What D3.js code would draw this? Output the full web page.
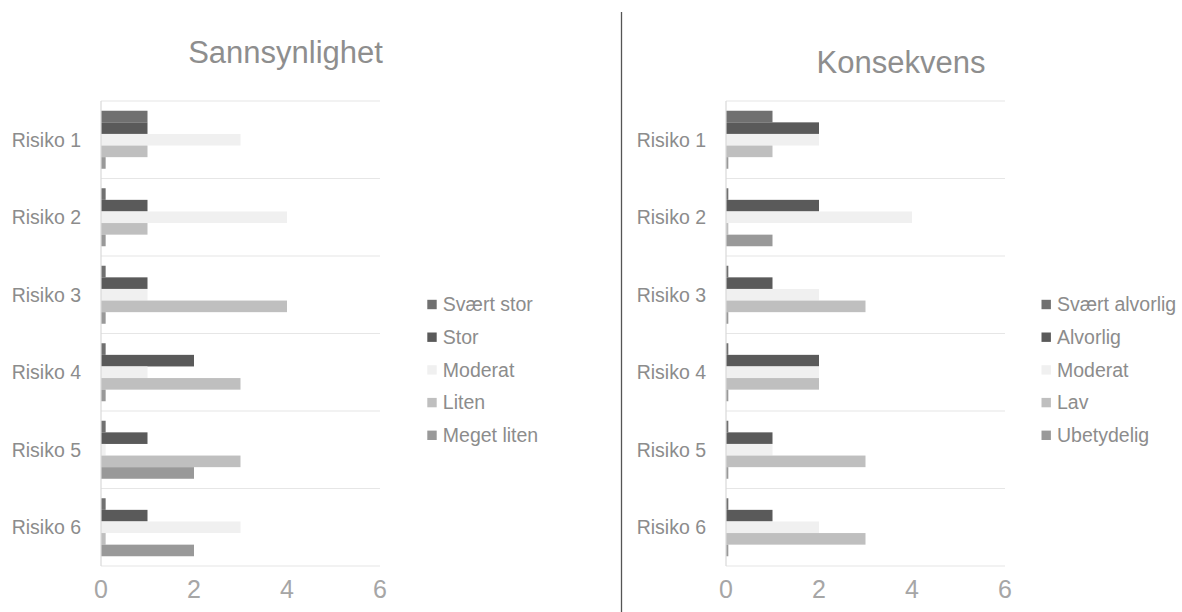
<!DOCTYPE html>
<html>
<head>
<meta charset="utf-8">
<script src="https://cdn.jsdelivr.net/npm/d3@7"></script>
<style>
  html, body { margin: 0; padding: 0; background: #fff; }
  svg { display: block; font-family: "Liberation Sans", Arial, sans-serif; }
</style>
</head>
<body>
<svg id="chart" width="1182" height="612"></svg>
<script>
// ---- Data ----
const categories = ["Risiko 1", "Risiko 2", "Risiko 3", "Risiko 4", "Risiko 5", "Risiko 6"];
const xTicks = [0, 2, 4, 6];

const leftTitle = "Sannsynlighet";
const leftSeries = ["Svært stor", "Stor", "Moderat", "Liten", "Meget liten"];
const leftSvaertStor = [1, 0.1, 0.1, 0.1, 0.1, 0.1];
const leftStor       = [1, 1, 1, 2, 1, 1];
const leftModerat    = [3, 4, 1, 1, 0.1, 3];
const leftLiten      = [1, 1, 4, 3, 3, 0.1];
const leftMegetLiten = [0.1, 0.1, 0.1, 0.1, 2, 2];

const rightTitle = "Konsekvens";
const rightSeries = ["Svært alvorlig", "Alvorlig", "Moderat", "Lav", "Ubetydelig"];
const rightSvaertAlvorlig = [1, 0.05, 0.05, 0.05, 0.05, 0.05];
const rightAlvorlig       = [2, 2, 1, 2, 1, 1];
const rightModerat        = [2, 4, 2, 2, 1, 2];
const rightLav            = [1, 0.05, 3, 2, 3, 3];
const rightUbetydelig     = [0.05, 1, 0.05, 0.05, 0.05, 0.05];

const seriesColors = ["#707070", "#5a5a5a", "#f0f0f0", "#bfbfbf", "#999999"];

const svg = d3.select("#chart");

function drawPanel(cfg) {
  const g = svg.append("g");
  const x = d3.scaleLinear().domain([0, 6]).range([cfg.x0, cfg.x0 + 279]);
  const y = d3.scaleBand().domain(categories).range([101, 566]).padding(0);
  const ys = d3.scaleBand().domain(cfg.series).range([0, y.bandwidth()]).paddingInner(0).paddingOuter(0.84);
  const color = d3.scaleOrdinal().domain(cfg.series).range(seriesColors);

  // title
  g.append("text")
    .attr("x", cfg.titleX).attr("y", cfg.titleY)
    .attr("text-anchor", "middle")
    .attr("font-size", 31)
    .attr("fill", "#8e8e8e")
    .text(cfg.title);

  // horizontal gridlines at band boundaries
  const bounds = categories.map(c => y(c)).concat([y.range()[1]]);
  g.selectAll("line.grid").data(bounds).enter().append("line")
    .attr("x1", x(0)).attr("x2", x(6))
    .attr("y1", d => d).attr("y2", d => d)
    .attr("stroke", "#e6e6e6").attr("stroke-width", 1.2);

  // bars
  const rows = [];
  cfg.series.forEach((s, si) => {
    cfg.values[si].forEach((v, ci) => rows.push({ s, c: categories[ci], v }));
  });
  g.selectAll("rect.bar").data(rows).enter().append("rect")
    .attr("x", x(0))
    .attr("y", d => y(d.c) + ys(d.s))
    .attr("width", d => x(d.v) - x(0))
    .attr("height", ys.bandwidth())
    .attr("fill", d => color(d.s));

  // vertical axis line
  g.append("line")
    .attr("x1", x(0)).attr("x2", x(0))
    .attr("y1", 101).attr("y2", 566)
    .attr("stroke", "#d9d9d9").attr("stroke-width", 1.2);

  // category labels
  g.selectAll("text.cat").data(categories).enter().append("text")
    .attr("x", x(0) - 20)
    .attr("y", d => y(d) + y.bandwidth() / 2)
    .attr("dy", "0.35em")
    .attr("text-anchor", "end")
    .attr("font-size", 19.5)
    .attr("fill", "#8c8c8c")
    .text(d => d);

  // x tick labels
  g.selectAll("text.tick").data(xTicks).enter().append("text")
    .attr("x", d => x(d))
    .attr("y", 598)
    .attr("text-anchor", "middle")
    .attr("font-size", 25)
    .attr("fill", "#a6a6a6")
    .text(d => d);

  // legend
  const leg = g.selectAll("g.leg").data(cfg.series).enter().append("g")
    .attr("transform", (d, i) => `translate(${cfg.legX},${304.5 + i * 32.7})`);
  leg.append("rect")
    .attr("x", 0).attr("y", -4.7).attr("width", 9.4).attr("height", 9.4)
    .attr("fill", d => color(d));
  leg.append("text")
    .attr("x", 15.5).attr("y", 0).attr("dy", "0.35em")
    .attr("font-size", 19.5)
    .attr("fill", "#8c8c8c")
    .text(d => d);
}

drawPanel({
  x0: 101, title: leftTitle, titleX: 285.5, titleY: 63,
  series: leftSeries,
  values: [leftSvaertStor, leftStor, leftModerat, leftLiten, leftMegetLiten],
  legX: 427.3
});

drawPanel({
  x0: 726, title: rightTitle, titleX: 901, titleY: 73,
  series: rightSeries,
  values: [rightSvaertAlvorlig, rightAlvorlig, rightModerat, rightLav, rightUbetydelig],
  legX: 1041.5
});

// divider
svg.append("line")
  .attr("x1", 621.5).attr("x2", 621.5)
  .attr("y1", 12).attr("y2", 612)
  .attr("stroke", "#555").attr("stroke-width", 1.3);
</script>
</body>
</html>
